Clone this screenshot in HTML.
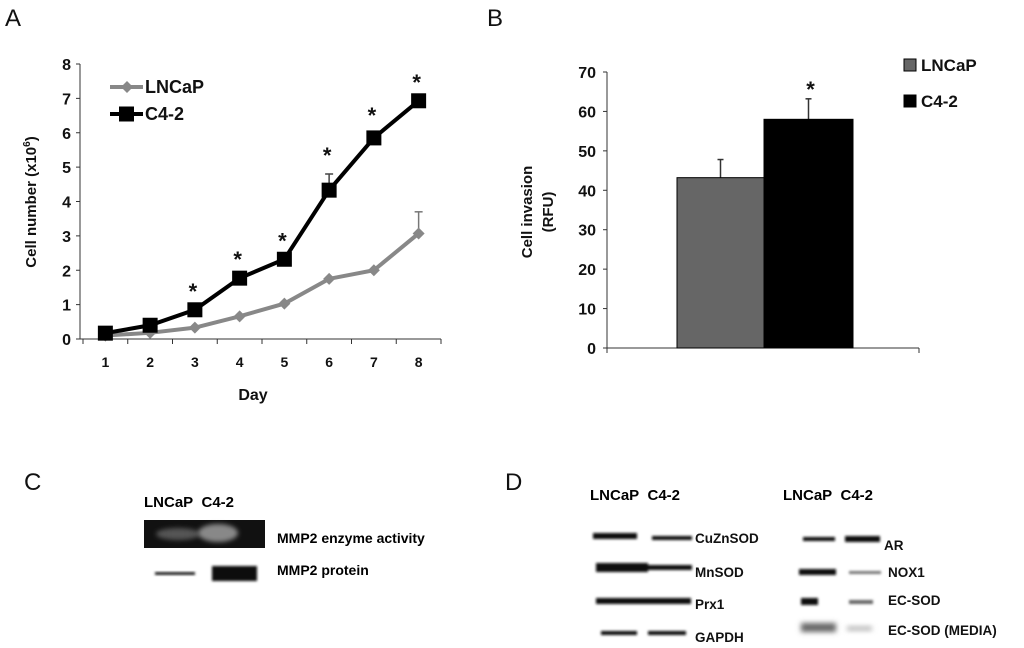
<!DOCTYPE html>
<html><head><meta charset="utf-8"><style>
html,body{margin:0;padding:0;background:#fff}
svg{display:block;font-family:"Liberation Sans",Arial,sans-serif}
</style></head><body>
<svg id="fig" width="1024" height="648" viewBox="0 0 1024 648">
<defs>
<filter id="blur1" x="-20%" y="-50%" width="140%" height="200%"><feGaussianBlur stdDeviation="1.3"/></filter>
<filter id="blur2" x="-20%" y="-50%" width="140%" height="200%"><feGaussianBlur stdDeviation="2.5"/></filter>
</defs>
<g font-size="24" fill="#111">
<text x="5" y="26">A</text>
<text x="487" y="26">B</text>
<text x="24" y="490">C</text>
<text x="505" y="490">D</text>
</g>
<g id="chartA"></g>
<g id="chartB"></g>

<g>
<text x="144" y="507" font-size="15" font-weight="bold">LNCaP&#160;&#160;C4-2</text>
<rect x="144" y="520" width="121" height="28" fill="#111"/>
<ellipse cx="178" cy="534" rx="22" ry="6" fill="#555" filter="url(#blur2)"/>
<ellipse cx="218" cy="533" rx="20" ry="9" fill="#888" filter="url(#blur2)"/>
<text x="277" y="543" font-size="14" font-weight="bold">MMP2 enzyme activity</text>
<rect x="155" y="572" width="40" height="3" fill="#222" filter="url(#blur1)"/>
<rect x="212" y="566" width="45" height="15" fill="#111" filter="url(#blur1)"/>
<text x="277" y="575" font-size="14" font-weight="bold">MMP2 protein</text>
</g>

<g font-weight="bold">
<text x="590" y="500" font-size="15">LNCaP&#160;&#160;C4-2</text>
<text x="783" y="500" font-size="15">LNCaP&#160;&#160;C4-2</text>
<g fill="#111" filter="url(#blur1)">
<rect x="593" y="533" width="44" height="6"/>
<rect x="652" y="536" width="40" height="4"/>
<rect x="596" y="563" width="52" height="9"/>
<rect x="646" y="565" width="46" height="5"/>
<rect x="596" y="598" width="95" height="6"/>
<rect x="601" y="631" width="36" height="4"/>
<rect x="648" y="631" width="38" height="4"/>
<rect x="803" y="537" width="32" height="4"/>
<rect x="845" y="536" width="35" height="6"/>
<rect x="799" y="569" width="37" height="6"/>
<rect x="849" y="571" width="32" height="3" fill="#777"/>
<rect x="801" y="598" width="17" height="7"/>
<rect x="849" y="600" width="24" height="4" fill="#666"/>
<rect x="801" y="623" width="35" height="9" fill="#666" filter="url(#blur2)"/>
<rect x="847" y="626" width="25" height="5" fill="#bbb" filter="url(#blur2)"/>
</g>
<g font-size="13.5" fill="#111">
<text x="695" y="543">CuZnSOD</text>
<text x="695" y="577">MnSOD</text>
<text x="695" y="609">Prx1</text>
<text x="695" y="642">GAPDH</text>
<text x="884" y="550">AR</text>
<text x="888" y="577">NOX1</text>
<text x="888" y="605">EC-SOD</text>
<text x="888" y="635">EC-SOD (MEDIA)</text>
</g>
</g>
</svg>
<script>
const days = [1,2,3,4,5,6,7,8];
const lncap = [0.1,0.18,0.33,0.66,1.03,1.75,2.0,3.07];
const lncapErr = [0,0,0,0,0,0,0,0.63];
const c42 = [0.17,0.4,0.85,1.77,2.32,4.33,5.85,6.93];
const c42Err = [0,0,0,0,0,0.47,0.12,0];
const c42Sig = [false,false,true,true,true,true,true,true];
const yTicksA = [0,1,2,3,4,5,6,7,8];

const barGroups = ['LNCaP','C4-2'];
const barValues = [43.2,58.0];
const barErr = [4.6,5.2];
const barSig = [false,true];
const yTicksB = [0,10,20,30,40,50,60,70];

const NS='http://www.w3.org/2000/svg';
function mk(parent,tag,attrs,text){const e=document.createElementNS(NS,tag);for(const k in attrs)e.setAttribute(k,attrs[k]);if(text!==undefined)e.textContent=text;parent.appendChild(e);return e;}

const A=document.getElementById('chartA');
const ax0=80, ax1=441, ay0=339, ay1=64;
const xA=d=>ax0+3+(d-0.5)*44.75;
const yA=v=>ay0-(v/8)*(ay0-ay1);
let e;
e=mk(A,'line',{x1:ax0,y1:ay1,x2:ax0,y2:ay0,stroke:'#333','stroke-width':1});


e=mk(A,'line',{x1:ax0,y1:ay0,x2:ax1,y2:ay0,stroke:'#333','stroke-width':1});


yTicksA.forEach(t=>{
  mk(A,'line',{x1:ax0-4,y1:yA(t),x2:ax0,y2:yA(t),stroke:'#333'});
  e=mk(A,'text',{x:ax0-9,y:yA(t)+6,'text-anchor':'end','font-size':16,'font-weight':'bold',fill:'#111'},t);
  
  
});
for(let i=0;i<=days.length;i++){const x=ax0+3+i*44.75;mk(A,'line',{x1:x,y1:ay0,x2:x,y2:ay0+5,stroke:'#333'});}
days.forEach(d=>{
  e=mk(A,'text',{x:xA(d),y:ay0+28,'text-anchor':'middle','font-size':14,'font-weight':'bold',fill:'#111'},d);
  
  
});
e=mk(A,'text',{x:253,y:400,'text-anchor':'middle','font-size':16,'font-weight':'bold',fill:'#111'},'Day');


e=mk(A,'text',{transform:'translate(36,202) rotate(-90)','text-anchor':'middle','font-size':15,'font-weight':'bold',fill:'#111'});


e.innerHTML='Cell number (x10<tspan dy="-6" font-size="10">6</tspan><tspan dy="6">)</tspan>';
days.forEach((d,i)=>{
  if(lncapErr[i]>0){const t=yA(lncap[i]+lncapErr[i]);mk(A,'line',{x1:xA(d),y1:yA(lncap[i]),x2:xA(d),y2:t,stroke:'#777','stroke-width':1.5});mk(A,'line',{x1:xA(d)-4,y1:t,x2:xA(d)+4,y2:t,stroke:'#777','stroke-width':1.5});}
  if(c42Err[i]>0){const t=yA(c42[i]+c42Err[i]);mk(A,'line',{x1:xA(d),y1:yA(c42[i]),x2:xA(d),y2:t,stroke:'#444','stroke-width':1.5});mk(A,'line',{x1:xA(d)-4,y1:t,x2:xA(d)+4,y2:t,stroke:'#444','stroke-width':1.5});}
});
e=mk(A,'polyline',{points:days.map((d,i)=>xA(d)+','+yA(lncap[i])).join(' '),fill:'none',stroke:'#888','stroke-width':4});


days.forEach((d,i)=>{const x=xA(d),y=yA(lncap[i]);
  e=mk(A,'polygon',{points:`${x},${y-6} ${x+6},${y} ${x},${y+6} ${x-6},${y}`,fill:'#888'});
  
  
});
e=mk(A,'polyline',{points:days.map((d,i)=>xA(d)+','+yA(c42[i])).join(' '),fill:'none',stroke:'#000','stroke-width':4});


days.forEach((d,i)=>{const x=xA(d),y=yA(c42[i]);
  e=mk(A,'rect',{x:x-7.5,y:y-7.5,width:15,height:15,fill:'#000'});
  
  
  if(c42Sig[i]){
    e=mk(A,'text',{x:x-2,y:yA(c42[i]+c42Err[i])-11,'text-anchor':'middle','font-size':22,'font-weight':'bold',fill:'#111'},'*');
    
    
  }
});
mk(A,'line',{x1:110,y1:87,x2:143,y2:87,stroke:'#888','stroke-width':4});
mk(A,'polygon',{points:'127,81 133,87 127,93 121,87',fill:'#888'});
e=mk(A,'text',{x:145,y:93,'font-size':18,'font-weight':'bold',fill:'#111'},'LNCaP');


mk(A,'line',{x1:110,y1:114,x2:143,y2:114,stroke:'#000','stroke-width':4});
mk(A,'rect',{x:119,y:106.5,width:15,height:15,fill:'#000'});
e=mk(A,'text',{x:145,y:120,'font-size':18,'font-weight':'bold',fill:'#111'},'C4-2');



const B=document.getElementById('chartB');
const bx0=607,bx1=919,by0=348,by1=72;
const yB=v=>by0-(v/70)*(by0-by1);
const barX=[677,764], barW=[87,89], barFill=['#666','#000'];
e=mk(B,'line',{x1:bx0,y1:by1,x2:bx0,y2:by0,stroke:'#333'});


e=mk(B,'line',{x1:bx0,y1:by0,x2:bx1,y2:by0,stroke:'#333'});


mk(B,'line',{x1:bx0,y1:by0,x2:bx0,y2:by0+5,stroke:'#333'});
mk(B,'line',{x1:bx1,y1:by0,x2:bx1,y2:by0+5,stroke:'#333'});
yTicksB.forEach(t=>{
  mk(B,'line',{x1:bx0-4,y1:yB(t),x2:bx0,y2:yB(t),stroke:'#333'});
  e=mk(B,'text',{x:bx0-11,y:yB(t)+6,'text-anchor':'end','font-size':16,'font-weight':'bold',fill:'#111'},t);
  
  
});
barGroups.forEach((g,i)=>{
  const cx=barX[i]+barW[i]/2, top=yB(barValues[i]+barErr[i]);
  mk(B,'line',{x1:cx,y1:yB(barValues[i]),x2:cx,y2:top,stroke:'#333','stroke-width':1.5});
  mk(B,'line',{x1:cx-3,y1:top,x2:cx+3,y2:top,stroke:'#333','stroke-width':1.5});
  e=mk(B,'rect',{x:barX[i],y:yB(barValues[i]),width:barW[i],height:by0-yB(barValues[i]),fill:barFill[i],stroke:'#000','stroke-width':1});
  
  
  if(barSig[i]){
    e=mk(B,'text',{x:cx+2,y:top-2,'text-anchor':'middle','font-size':22,'font-weight':'bold',fill:'#111'},'*');
    
    
  }
});
e=mk(B,'text',{transform:'translate(532,212) rotate(-90)','text-anchor':'middle','font-size':15,'font-weight':'bold',fill:'#111'},'Cell invasion');


e=mk(B,'text',{transform:'translate(553,212) rotate(-90)','text-anchor':'middle','font-size':15,'font-weight':'bold',fill:'#111'},'(RFU)');


barGroups.forEach((g,i)=>{
  const cy=[65,101][i];
  mk(B,'rect',{x:904,y:cy-6,width:12,height:12,fill:barFill[i],stroke:'#000'});
  e=mk(B,'text',{x:921,y:cy+6,'font-size':17,'font-weight':'bold',fill:'#111'},g);
  
  
});
</script>
</body></html>
